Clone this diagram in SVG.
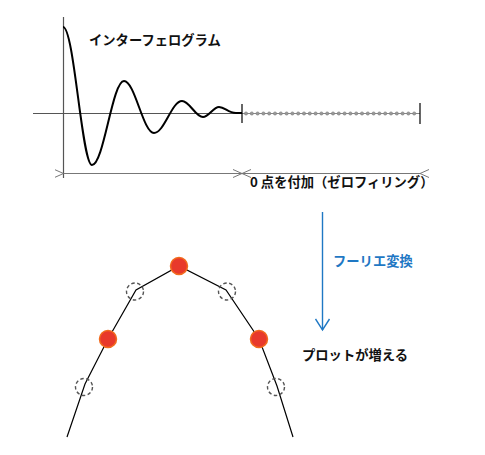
<svg xmlns="http://www.w3.org/2000/svg" width="485" height="455" viewBox="0 0 485 455">
<style>
.t{font-family:"Noto Sans CJK JP","Noto Sans",sans-serif;font-weight:bold;font-size:13.3px;fill:#111}
.blue{fill:#1f78c4}
.axis{stroke:#555;stroke-width:1.2;fill:none}
.dim{stroke:#777;stroke-width:1;fill:none}
.dot{fill:#999;stroke:#777;stroke-width:0.6}
.plot{fill:#e8392b;stroke:#f26b1d;stroke-width:1.5}
.ghost{fill:none;stroke:#555;stroke-width:1.4;stroke-dasharray:3.5 2.5}
</style>
<defs>
<marker id="chev" viewBox="-1 -5 10 10" markerWidth="10" markerHeight="10" refX="0" refY="0" orient="auto-start-reverse" markerUnits="userSpaceOnUse">
<path d="M9,-4 L0,0 L9,4" fill="none" stroke="#777" stroke-width="1"/>
</marker>
<marker id="bluehead" viewBox="-8 -12 16 14" markerWidth="16" markerHeight="14" refX="0" refY="0" orient="0" markerUnits="userSpaceOnUse">
<path d="M-7,-11 L0,0 L7,-11" fill="none" stroke="#1f78c4" stroke-width="1.4"/>
</marker>
</defs>
<g id="interferogram">
<line class="axis" x1="63.5" y1="17" x2="63.5" y2="178"/>
<line class="axis" x1="33" y1="113.5" x2="242" y2="113.5"/>
<path d="M63,27 C74.2,27 81.8,165 92,165 C103.7,165 112.3,81 124,81 C134.9,81 143.1,133 154,133 C164.2,133 171.8,101 182,101 C189.6,101 195.4,117 203,117 C208.8,117 213.2,107 219,107 C225,107 228,113 236,113 L242,113" fill="none" stroke="#000" stroke-width="2"/>
<text class="t" x="89" y="45">インターフェログラム</text>
</g>
<g id="zerofill">
<line x1="242" y1="113.5" x2="420" y2="113.5" stroke="#888" stroke-width="1"/>
<g id="dots">
<circle class="dot" cx="246" cy="113.5" r="1.6"/><circle class="dot" cx="251.8" cy="113.5" r="1.6"/><circle class="dot" cx="257.6" cy="113.5" r="1.6"/><circle class="dot" cx="263.4" cy="113.5" r="1.6"/><circle class="dot" cx="269.2" cy="113.5" r="1.6"/><circle class="dot" cx="275" cy="113.5" r="1.6"/><circle class="dot" cx="280.8" cy="113.5" r="1.6"/><circle class="dot" cx="286.6" cy="113.5" r="1.6"/><circle class="dot" cx="292.4" cy="113.5" r="1.6"/><circle class="dot" cx="298.2" cy="113.5" r="1.6"/><circle class="dot" cx="304" cy="113.5" r="1.6"/><circle class="dot" cx="309.8" cy="113.5" r="1.6"/><circle class="dot" cx="315.6" cy="113.5" r="1.6"/><circle class="dot" cx="321.4" cy="113.5" r="1.6"/><circle class="dot" cx="327.2" cy="113.5" r="1.6"/><circle class="dot" cx="333" cy="113.5" r="1.6"/><circle class="dot" cx="338.8" cy="113.5" r="1.6"/><circle class="dot" cx="344.6" cy="113.5" r="1.6"/><circle class="dot" cx="350.4" cy="113.5" r="1.6"/><circle class="dot" cx="356.2" cy="113.5" r="1.6"/><circle class="dot" cx="362" cy="113.5" r="1.6"/><circle class="dot" cx="367.8" cy="113.5" r="1.6"/><circle class="dot" cx="373.6" cy="113.5" r="1.6"/><circle class="dot" cx="379.4" cy="113.5" r="1.6"/><circle class="dot" cx="385.2" cy="113.5" r="1.6"/><circle class="dot" cx="391" cy="113.5" r="1.6"/><circle class="dot" cx="396.8" cy="113.5" r="1.6"/><circle class="dot" cx="402.6" cy="113.5" r="1.6"/><circle class="dot" cx="408.4" cy="113.5" r="1.6"/><circle class="dot" cx="414.2" cy="113.5" r="1.6"/>
</g>
<line x1="242" y1="104" x2="242" y2="123" stroke="#000" stroke-width="1.2"/>
<line x1="420" y1="103" x2="420" y2="124" stroke="#000" stroke-width="1.2"/>
<text class="t" x="250" y="187">0 点を付加（ゼロフィリング）</text>
</g>
<g id="connectors">
<line class="dim" x1="63.5" y1="173.5" x2="242" y2="173.5" marker-start="url(#chev)" marker-end="url(#chev)"/>
<line class="dim" x1="242" y1="173.5" x2="420" y2="173.5" marker-start="url(#chev)" marker-end="url(#chev)"/>
<line x1="322.5" y1="212" x2="322.5" y2="330" stroke="#1f78c4" stroke-width="1.4" marker-end="url(#bluehead)"/>
<polyline points="67,437 85,384 108,339 136,290 179,266 226,290 259,339 277,386 293,437" fill="none" stroke="#000" stroke-width="1.2"/>
</g>
<g id="fourier-label">
<text class="t blue" x="333" y="266">フーリエ変換</text>
</g>
<g id="spectrum">
<circle class="ghost" cx="135" cy="291.5" r="8.5"/>
<circle class="ghost" cx="227" cy="291.5" r="8.5"/>
<circle class="ghost" cx="84" cy="387" r="8.5"/>
<circle class="ghost" cx="276" cy="387" r="8.5"/>
<circle class="plot" cx="179" cy="266" r="8.5"/>
<circle class="plot" cx="108" cy="339" r="8.5"/>
<circle class="plot" cx="259" cy="339" r="8.5"/>
</g>
<g id="more-points-label">
<text class="t" x="302" y="360">プロットが増える</text>
</g>
</svg>
